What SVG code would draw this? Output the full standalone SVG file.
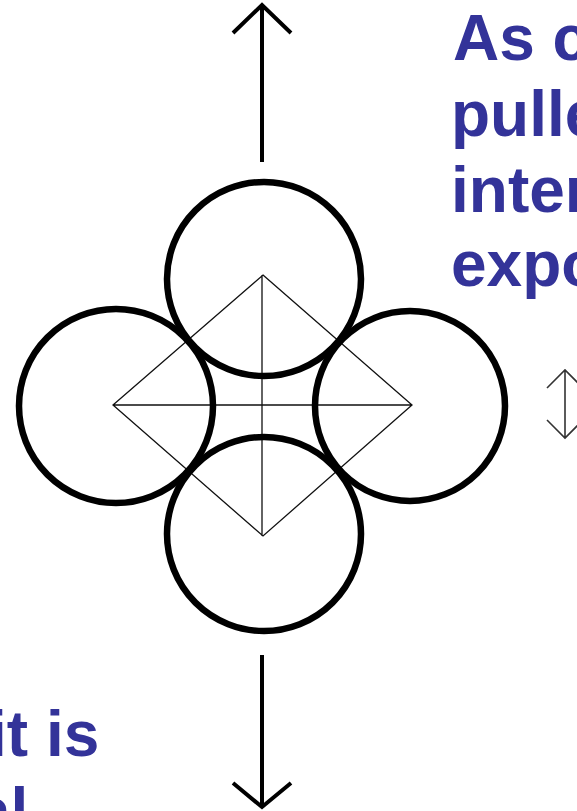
<svg xmlns="http://www.w3.org/2000/svg" width="577" height="811" viewBox="0 0 577 811">
<style>
.t{font-family:"Liberation Sans",Arial,sans-serif;font-weight:bold;font-size:64px;fill:#333399}
.c{fill:none;stroke:#000;stroke-width:6.5}
.thin{fill:none;stroke:#111;stroke-width:1.3}
.arr{fill:none;stroke:#000;stroke-width:4;stroke-linecap:butt;stroke-linejoin:miter}
</style>
<rect width="577" height="811" fill="#fff"/>
<g id="connectors">
<path class="arr" d="M262,162 V6 M233,33 L262,5 L291,33"/>
<path class="arr" d="M262,655 V806 M233,783 L262,807 L291,783"/>
<path fill="none" stroke="#333" stroke-width="1.6" d="M565,370 V438 M547,388 L565,370 L583,388 M547,420 L565,438 L583,420"/>
</g>
<g id="diamond">
<path class="thin" d="M263,275 L412,405 L263,536 L113,405 Z M113,405 H412 M262,275 V536"/>
</g>
<g id="circle-top"><circle class="c" cx="264" cy="279" r="97"/></g>
<g id="circle-left"><circle class="c" cx="116" cy="406" r="97"/></g>
<g id="circle-right"><circle class="c" cx="410" cy="406" r="95"/></g>
<g id="circle-bottom"><circle class="c" cx="264" cy="534" r="97"/></g>
<g id="text-right">
<text class="t" x="453" y="60">As c</text>
<text class="t" x="451" y="136">pulle</text>
<text class="t" x="451" y="212">inter</text>
<text class="t" x="451" y="286">expo</text>
</g>
<g id="text-left">
<text class="t" x="-11" y="756">it is</text>
<text class="t" x="-25" y="833">al</text>
</g>
</svg>
